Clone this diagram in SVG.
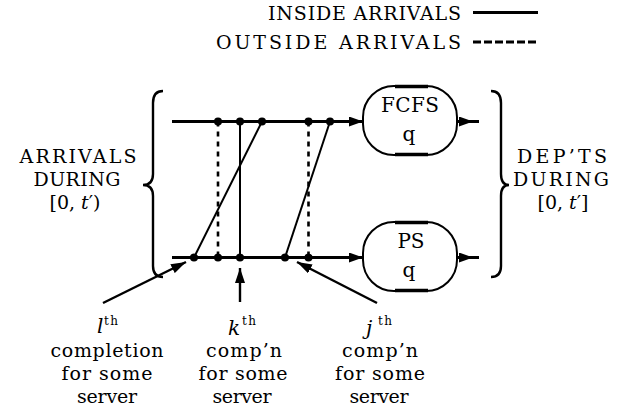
<svg xmlns="http://www.w3.org/2000/svg" width="627" height="410" viewBox="0 0 627 410">
<style>
text{font-family:"DejaVu Serif","Liberation Serif",serif;fill:#000}
.t{font-size:19px}
.b{font-size:20px}
.s{font-size:12px}
.i{font-style:italic}
.main{stroke:#000;stroke-width:3;fill:none}
.thin{stroke:#000;stroke-width:2;fill:none}
.dash{stroke:#000;stroke-width:2.6;fill:none;stroke-dasharray:5 5}
.ptr{stroke:#000;stroke-width:2.4;fill:none}
.box{stroke:#000;stroke-width:2;fill:#fff}
.brace{stroke:#000;stroke-width:2.4;fill:none}
</style>
<defs>
<marker id="ah" markerUnits="userSpaceOnUse" viewBox="0 0 14 10" refX="14" refY="5" markerWidth="14" markerHeight="10" orient="auto"><path d="M0,0 L14,5 L0,10 z" fill="#000"/></marker>
<marker id="ah2" markerUnits="userSpaceOnUse" viewBox="0 0 15 10" refX="15" refY="5" markerWidth="15" markerHeight="10" orient="auto"><path d="M0,0 L15,5 L0,10 z" fill="#000"/></marker>
</defs>

<g id="legend">
<text class="t" x="461" y="20" text-anchor="end" textLength="193" lengthAdjust="spacing">INSIDE ARRIVALS</text>
<line x1="473" y1="12.5" x2="538" y2="12.5" class="main"/>
<text class="t" x="461" y="49" text-anchor="end" textLength="245" lengthAdjust="spacing">OUTSIDE ARRIVALS</text>
<line x1="473" y1="42" x2="538" y2="42" stroke="#000" stroke-width="3.2" stroke-dasharray="8 3"/>
</g>

<g id="arrivals-label">
<text class="t" x="78" y="163" text-anchor="middle" textLength="117" lengthAdjust="spacing">ARRIVALS</text>
<text class="t" x="77" y="186" text-anchor="middle" textLength="87" lengthAdjust="spacing">DURING</text>
<text class="t" x="75" y="208.5" text-anchor="middle">[0, <tspan class="i">t</tspan>′)</text>
<path class="brace" d="M163,91 Q153,91 153,103 L153,174 Q153,185 143,185 Q153,185 153,196 L153,266 Q153,277 163,277"/>
</g>

<g id="departures-label">
<text class="t" x="562" y="163" text-anchor="middle" textLength="90" lengthAdjust="spacing">DEP’TS</text>
<text class="t" x="561" y="186" text-anchor="middle" textLength="96" lengthAdjust="spacing">DURING</text>
<text class="t" x="563" y="208.5" text-anchor="middle">[0, <tspan class="i">t</tspan>′]</text>
<path class="brace" d="M491,91 Q501,91 501,103 L501,174 Q501,185 509,185 Q501,185 501,196 L501,266 Q501,277 491,277"/>
</g>

<g id="fcfs">
<rect class="box" x="363" y="86" width="94" height="69" rx="31" ry="31"/>
<line x1="395" y1="86.5" x2="428" y2="86.5" stroke="#000" stroke-width="3.5"/>
<line x1="395" y1="154.5" x2="428" y2="154.5" stroke="#000" stroke-width="3.5"/>
<text class="b" x="410" y="112" text-anchor="middle" textLength="58" lengthAdjust="spacing">FCFS</text>
<text class="b" x="409" y="141" text-anchor="middle">q</text>
</g>

<g id="ps">
<rect class="box" x="363" y="222" width="94" height="69" rx="31" ry="31"/>
<line x1="395" y1="222.5" x2="428" y2="222.5" stroke="#000" stroke-width="3.5"/>
<line x1="395" y1="290.5" x2="428" y2="290.5" stroke="#000" stroke-width="3.5"/>
<text class="b" x="411" y="248" text-anchor="middle">PS</text>
<text class="b" x="409" y="277" text-anchor="middle">q</text>
</g>

<g id="label-l">
<text class="b i" x="97" y="333">l</text>
<text class="s" x="104" y="325" textLength="14" lengthAdjust="spacing">th</text>
<text class="t" x="107" y="357" text-anchor="middle" textLength="113" lengthAdjust="spacing">completion</text>
<text class="t" x="107" y="380" text-anchor="middle" textLength="91" lengthAdjust="spacing">for some</text>
<text class="t" x="107" y="402.5" text-anchor="middle" textLength="60" lengthAdjust="spacing">server</text>
</g>

<g id="label-k">
<text class="b i" x="228" y="335">k</text>
<text class="s" x="242" y="325" textLength="14" lengthAdjust="spacing">th</text>
<text class="t" x="244" y="357" text-anchor="middle" textLength="76" lengthAdjust="spacing">comp’n</text>
<text class="t" x="243" y="380" text-anchor="middle" textLength="89" lengthAdjust="spacing">for some</text>
<text class="t" x="242" y="402.5" text-anchor="middle" textLength="59" lengthAdjust="spacing">server</text>
</g>

<g id="label-j">
<text class="b i" x="366" y="335">j</text>
<text class="s" x="378" y="325" textLength="14" lengthAdjust="spacing">th</text>
<text class="t" x="380" y="357" text-anchor="middle" textLength="76" lengthAdjust="spacing">comp’n</text>
<text class="t" x="380" y="380" text-anchor="middle" textLength="90" lengthAdjust="spacing">for some</text>
<text class="t" x="379" y="402.5" text-anchor="middle" textLength="59" lengthAdjust="spacing">server</text>
</g>

<g id="connectors">
<line class="main" x1="172" y1="121.5" x2="363" y2="121.5" marker-end="url(#ah)"/>
<line class="main" x1="172" y1="257.5" x2="363" y2="257.5" marker-end="url(#ah)"/>
<path class="main" d="M457,121.5 L473,121.5 L479,121.5" marker-mid="url(#ah)"/>
<path class="main" d="M457,257.5 L473,257.5 L479,257.5" marker-mid="url(#ah)"/>
<line class="dash" x1="218" y1="121.5" x2="218" y2="257.5"/>
<line class="thin" x1="240" y1="121.5" x2="240" y2="257.5"/>
<line class="thin" x1="262" y1="121.5" x2="194" y2="257.5"/>
<line class="dash" x1="308.5" y1="121.5" x2="308.5" y2="257.5"/>
<line class="thin" x1="330" y1="121.5" x2="285" y2="257.5"/>
<line class="ptr" x1="103" y1="303" x2="186" y2="262" marker-end="url(#ah2)"/>
<line class="ptr" x1="240" y1="302" x2="240" y2="268" marker-end="url(#ah2)"/>
<line class="ptr" x1="377" y1="303" x2="297" y2="262" marker-end="url(#ah2)"/>
<g fill="#000">
<circle cx="218" cy="121.5" r="4"/><circle cx="240" cy="121.5" r="4"/><circle cx="262" cy="121.5" r="4"/><circle cx="308.5" cy="121.5" r="4"/><circle cx="330" cy="121.5" r="4"/>
<circle cx="194" cy="257.5" r="4"/><circle cx="218" cy="257.5" r="4"/><circle cx="240" cy="257.5" r="4"/><circle cx="285" cy="257.5" r="4"/><circle cx="308.5" cy="257.5" r="4"/>
</g>
</g>
</svg>
